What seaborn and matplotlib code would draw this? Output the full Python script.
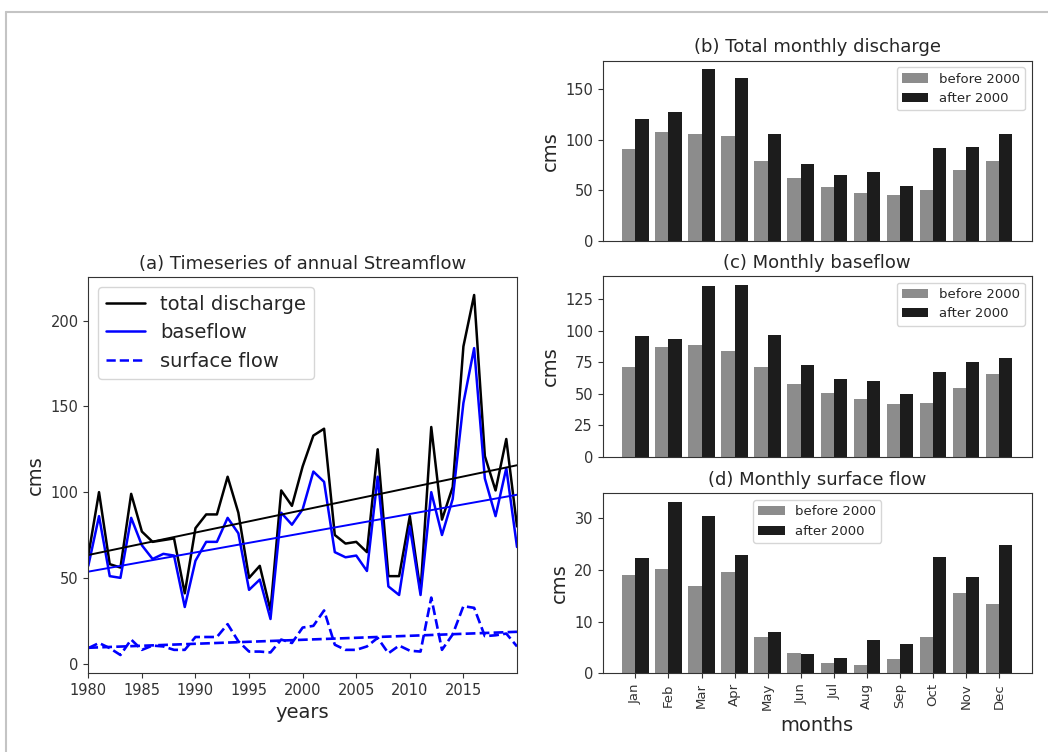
import numpy as np
import pandas as pd
import matplotlib
matplotlib.use("Agg")
import matplotlib.pyplot as plt
import seaborn as sns
from matplotlib.lines import Line2D

# ---------------- data ----------------
years = list(range(1980, 2021))
total_discharge = [63, 100, 58, 56, 99, 77, 71, 72, 73, 41, 79, 87, 87, 109, 88, 50, 57, 31,
                   101, 92, 115, 133, 137, 75, 70, 71, 65, 125, 51, 51, 86, 42, 138, 84, 103,
                   185, 215, 121, 101, 131, 80]
baseflow = [57, 86, 51, 50, 85, 69, 61, 64, 63, 33, 60, 71, 71, 85, 76, 43, 49, 26,
            88, 81, 90, 112, 106, 65, 62, 63, 54, 109, 45, 40, 80, 40, 100, 75, 96,
            152, 184, 108, 86, 114, 68]
surface_flow = [9, 12, 9, 5, 14, 8, 10.5, 10, 8, 8, 15.5, 15.5, 15.5, 23, 13, 7, 7, 6.5,
                14, 12, 21, 22, 31, 11, 8, 8, 10, 15, 6, 10.5, 7.5, 7, 38.5, 8, 17,
                33.5, 32.5, 16, 16.5, 17.5, 10]

months = ["Jan", "Feb", "Mar", "Apr", "May", "Jun", "Jul", "Aug", "Sep", "Oct", "Nov", "Dec"]
periods = ["before 2000", "after 2000"]

total_before = [91, 108, 106, 104, 79, 62, 53, 47.5, 45, 50, 70.5, 79]
total_after = [120.5, 127.5, 170, 161, 106, 76.5, 65, 68, 54.5, 92, 93, 105.5]
base_before = [71.5, 87, 88.5, 84, 71.5, 58, 50.5, 45.5, 42, 42.5, 54.5, 65.5]
base_after = [95.5, 93, 135, 136.5, 96.5, 72.5, 61.5, 60, 50, 67, 75, 78.5]
surf_before = [18.9, 20.1, 16.8, 19.5, 7.1, 3.9, 1.9, 1.6, 2.7, 7.1, 15.5, 13.3]
surf_after = [22.3, 33.1, 30.3, 22.9, 8.0, 3.7, 3.0, 6.5, 5.7, 22.4, 18.5, 24.8]

year_ticks = [1980, 1985, 1990, 1995, 2000, 2005, 2010, 2015]

# ---------------- style ----------------
sns.set_style("ticks")
plt.rcParams["font.family"] = ["DejaVu Sans"]
plt.rcParams["axes.edgecolor"] = "#333333"
plt.rcParams["xtick.color"] = "#333333"
plt.rcParams["ytick.color"] = "#333333"

W, H = 1048, 752
fig = plt.figure(figsize=(W / 100, H / 100), dpi=100)

# thin gray frame around the picture
fig.add_artist(Line2D([6 / W, 6 / W], [0, 1 - 12 / H], color="#c4c4c4", lw=1.5,
                      transform=fig.transFigure))
fig.add_artist(Line2D([6 / W, 1], [1 - 12 / H, 1 - 12 / H], color="#c4c4c4", lw=1.5,
                      transform=fig.transFigure))


def box(x0, y0, x1, y1):
    return [x0 / W, 1 - y1 / H, (x1 - x0) / W, (y1 - y0) / H]


# ---------------- (a) time series ----------------
axa = fig.add_axes(box(88.3, 277, 517, 673))
ts = pd.DataFrame({"year": years, "total": total_discharge,
                   "base": baseflow, "surface": surface_flow})
sns.lineplot(data=ts, x="year", y="total", color="black", lw=1.8, ax=axa)
sns.lineplot(data=ts, x="year", y="base", color="blue", lw=1.8, ax=axa)
sns.lineplot(data=ts, x="year", y="surface", color="blue", lw=1.9, ls="--", ax=axa)
sns.regplot(data=ts, x="year", y="total", scatter=False, ci=None, color="black",
            line_kws={"lw": 1.4}, ax=axa)
sns.regplot(data=ts, x="year", y="base", scatter=False, ci=None, color="blue",
            line_kws={"lw": 1.4}, ax=axa)
sns.regplot(data=ts, x="year", y="surface", scatter=False, ci=None, color="blue",
            line_kws={"lw": 1.9, "ls": "--"}, ax=axa)
axa.set_xlim(1980, 2020)
axa.set_xticks(year_ticks)
axa.set_xlabel("years", fontsize=14)
axa.set_ylabel("cms", fontsize=14)
axa.set_title("(a) Timeseries of annual Streamflow", fontsize=13)
axa.tick_params(labelsize=10.5)
handles = [Line2D([], [], color="black", lw=1.8),
           Line2D([], [], color="blue", lw=1.8),
           Line2D([], [], color="blue", lw=1.8, ls="--")]
axa.legend(handles, ["total discharge", "baseflow", "surface flow"], loc="upper left",
           fontsize=14, frameon=True, handlelength=2.0)


# ---------------- bar panels ----------------
def bar_panel(ax, before, after, title, legend_loc, show_months):
    df = pd.DataFrame({
        "month": months * 2,
        "period": [periods[0]] * 12 + [periods[1]] * 12,
        "value": list(before) + list(after),
    })
    sns.barplot(data=df, x="month", y="value", hue="period", order=months,
                hue_order=periods, palette=["#8c8c8c", "#1c1c1c"], width=0.8,
                saturation=1, edgecolor="none", ax=ax)
    ax.set_xlim(-0.99, 11.99)
    ax.set_title(title, fontsize=13)
    ax.set_ylabel("cms", fontsize=14)
    ax.tick_params(labelsize=10.5)
    if show_months:
        ax.set_xlabel("months", fontsize=14)
        ax.tick_params(axis="x", rotation=90, labelsize=9.5)
    else:
        ax.set_xlabel("")
        ax.set_xticks([])
    ax.legend(loc=legend_loc, fontsize=9.5, frameon=True, title=None)


axb = fig.add_axes(box(602.7, 60.7, 1031.7, 240.7))
bar_panel(axb, total_before, total_after, "(b) Total monthly discharge", "upper right", False)
axb.set_yticks([0, 50, 100, 150])

axc = fig.add_axes(box(602.7, 276, 1031.7, 456.7))
bar_panel(axc, base_before, base_after, "(c) Monthly baseflow", "upper right", False)
axc.set_yticks([0, 25, 50, 75, 100, 125])

axd = fig.add_axes(box(602.7, 493.3, 1031.7, 673.3))
bar_panel(axd, surf_before, surf_after, "(d) Monthly surface flow", "upper center", True)
axd.set_yticks([0, 10, 20, 30])

fig.savefig("out.png", dpi=100)
